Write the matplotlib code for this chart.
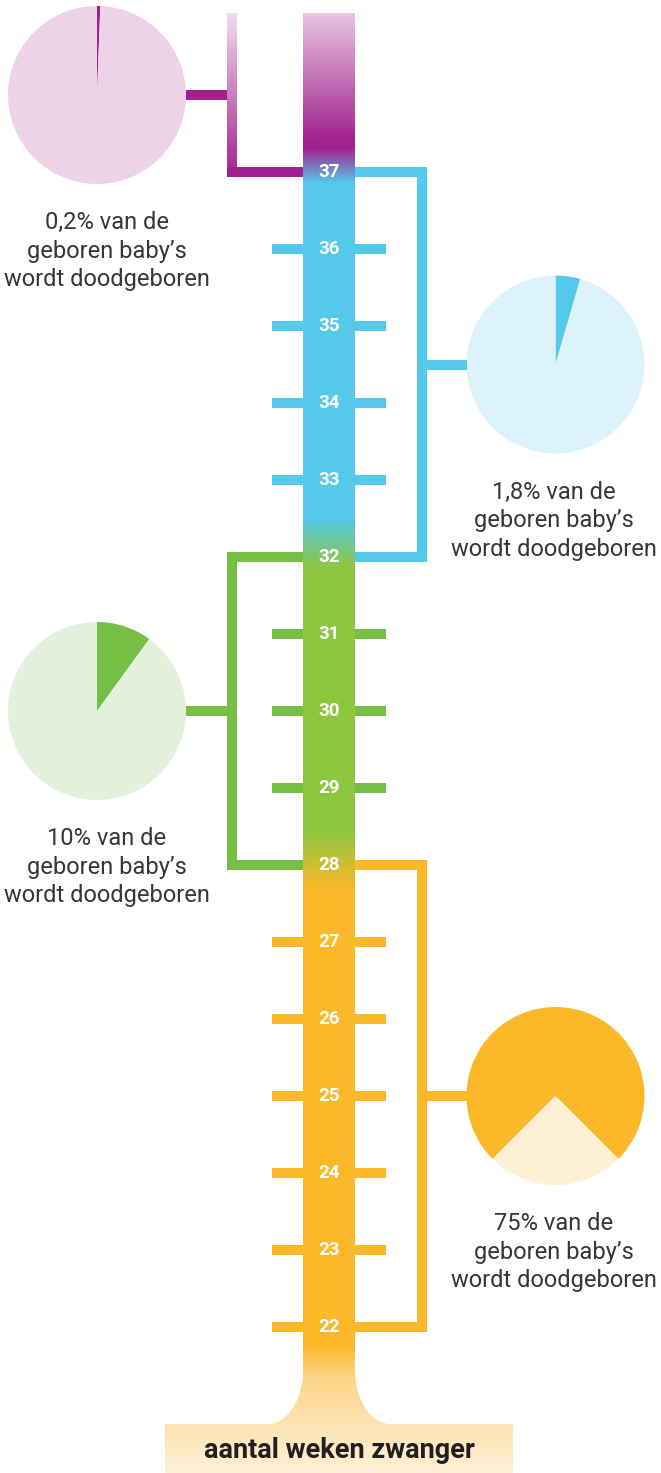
import numpy as np
import matplotlib
matplotlib.use("Agg")
from matplotlib import pyplot as plt
from matplotlib.path import Path
from matplotlib.patches import PathPatch
from matplotlib.colors import to_rgb

# data
weeks = list(range(22, 38))
group_lo = [37, 32, 28, 22]
group_hi = [39, 37, 32, 28]
pie_share = [0.6, 4.5, 10, 75]
pct_text = ["0,2%", "1,8%", "10%", "75%"]
side = ["left", "right", "left", "right"]
dark = ["#a3218e", "#55c9ea", "#74bf44", "#fbb829"]
light = ["#ecd3e8", "#dcf3fb", "#e3f1dc", "#fef0d5"]
tick_col = ["#a3218e", "#55c9ea", "#74bf44", "#fbb829"]
bottom_label = "aantal weken zwanger"

# layout: 77 px per week, same unit on x
U = 77.0
W, H = 661, 1473
def X(px):
    return px / U
def Y(py):
    return 37 - (py - 172) / U

fig = plt.figure(figsize=(W / 100, H / 100), dpi=100)
ax = fig.add_axes([0, 0, 1, 1])

lw = 10 * 72 / 100  # 10 px

# ticks
for wk in weeks:
    gi = [i for i in range(4) if group_lo[i] <= wk < group_hi[i]][0]
    if wk in group_lo[1:] and wk != 22:
        continue
    ax.plot([X(272), X(386)], [wk, wk], color=tick_col[gi], lw=lw,
            solid_capstyle="butt", zorder=2)

# brackets + connectors
for i in range(4):
    lo, hi = group_lo[i], group_hi[i]
    mid = (lo + hi) / 2
    if i == 0:
        # gradient vertical bar
        grad = np.linspace(0, 1, 200)[:, None]
        c0, c1 = np.array(to_rgb("#f0dbed")), np.array(to_rgb("#a3218e"))
        img = c0 + (c1 - c0) * grad[:, :, None]
        ax.imshow(img, extent=(X(227), X(237), Y(177), Y(13)),
                  aspect="auto", interpolation="bilinear", zorder=2)
        ax.plot([X(227), X(303)], [lo, lo], color=dark[i], lw=lw,
                solid_capstyle="butt", zorder=2)
        ax.plot([X(186), X(227)], [mid, mid], color=dark[i], lw=lw,
                solid_capstyle="butt", zorder=2)
        continue
    if side[i] == "left":
        xb, xc, xp = X(232), X(303), X(186)
    else:
        xb, xc, xp = X(422), X(355), X(467)
    ax.plot([xc, xb, xb, xc], [hi, hi, lo, lo], color=dark[i], lw=lw,
            solid_joinstyle="miter", solid_capstyle="butt", zorder=2)
    ax.plot([xb, xp], [mid, mid], color=dark[i], lw=lw,
            solid_capstyle="butt", zorder=2)

# column with gradient
stops = [(0, "#e8c6e2"), (13, "#e8c6e2"), (140, "#a3218e"), (148, "#a3218e"),
         (183, "#55c9ea"), (518, "#55c9ea"), (568, "#8dc63f"),
         (830, "#8dc63f"), (890, "#fbb829"), (1345, "#fbb829"),
         (1378, "#fcd58a"), (1473, "#fef1d8")]
sy = np.array([s[0] for s in stops], float)
sc = np.array([to_rgb(s[1]) for s in stops])
rows = np.arange(H) + 0.5
col = np.stack([np.interp(rows, sy, sc[:, k]) for k in range(3)], axis=1)
img = np.repeat(col[:, None, :], 2, axis=1)
im = ax.imshow(img, extent=(X(165), X(513), Y(H), Y(0)), aspect="auto",
               interpolation="bilinear", zorder=3)
verts = [(303, 13), (355, 13), (355, 1377),
         (358, 1405), (373, 1424), (390, 1424),
         (513, 1424), (513, 1473), (165, 1473), (165, 1424), (268, 1424),
         (285, 1424), (300, 1405), (303, 1377), (303, 13)]
codes = [Path.MOVETO, Path.LINETO, Path.LINETO,
         Path.CURVE4, Path.CURVE4, Path.CURVE4,
         Path.LINETO, Path.LINETO, Path.LINETO, Path.LINETO, Path.LINETO,
         Path.CURVE4, Path.CURVE4, Path.CURVE4, Path.CLOSEPOLY]
shape = Path([(X(a), Y(b)) for a, b in verts], codes)
patch = PathPatch(shape, facecolor="none", edgecolor="none")
ax.add_patch(patch)
im.set_clip_path(patch)

# week numbers
for wk in weeks:
    ax.text(X(329), wk, str(wk), color="white", fontsize=13.5,
            fontweight="bold", family="Roboto", ha="center", va="center",
            zorder=5)

# pies
for i in range(4):
    mid = (group_lo[i] + group_hi[i]) / 2
    cx = X(97) if side[i] == "left" else X(555.5)
    if i == 3:
        st, cc = -45, True
    else:
        st, cc = 90, False
    ax.pie([pie_share[i], 100 - pie_share[i]], center=(cx, mid),
           radius=89 / U, startangle=st, counterclock=cc,
           colors=[dark[i], light[i]], frame=True,
           wedgeprops=dict(linewidth=0))
    tx = X(107) if side[i] == "left" else X(554)
    ax.text(tx, mid - 2.03, pct_text[i] + " van de\ngeboren baby\u2019s\nwordt doodgeboren",
            ha="center", va="center", fontsize=17, family="Roboto",
            color="#363636", linespacing=1.3, zorder=5)

ax.text(X(339), Y(1450), bottom_label, ha="center", va="center",
        fontsize=19.5, fontweight="bold", family="Roboto", color="#231f20",
        zorder=5)

ax.set_xlim(0, X(W))
ax.set_ylim(Y(H), Y(0))
ax.set_aspect("auto")
ax.axis("off")
fig.savefig("out.png", dpi=100)
